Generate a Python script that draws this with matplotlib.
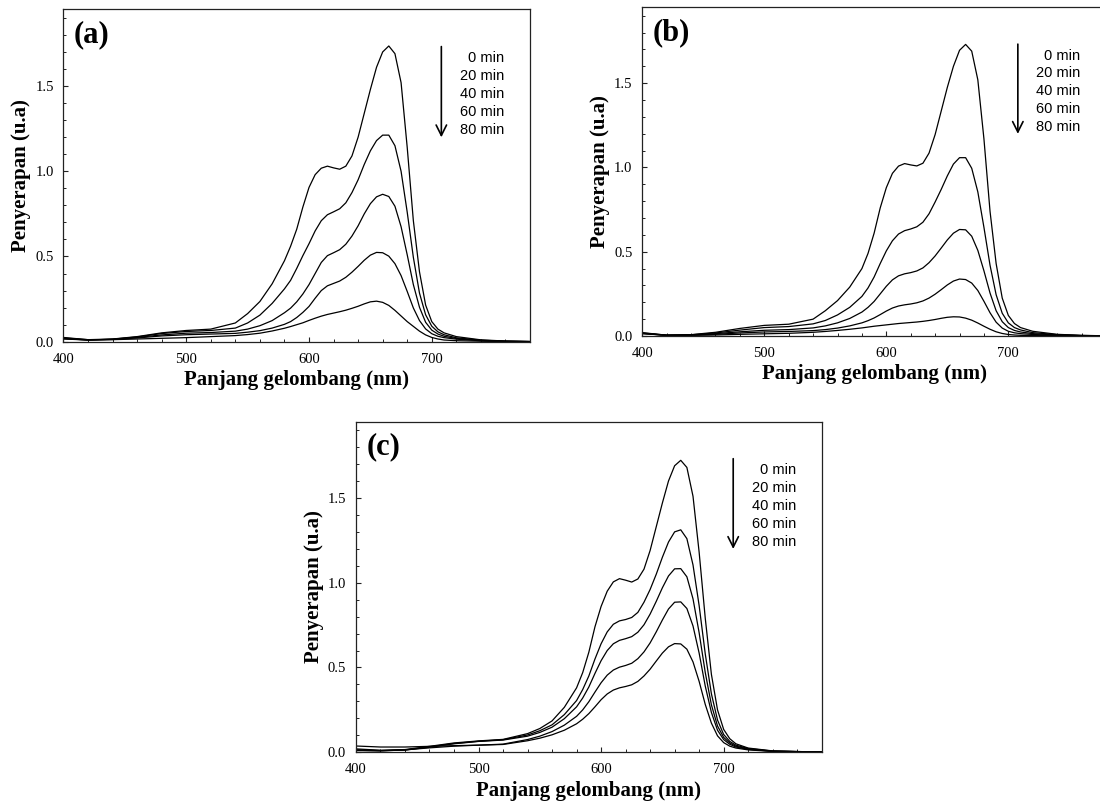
# plot.py
#
# UV-Vis absorption spectra at 0-80 min, three panels (a), (b), (c)
#

import matplotlib
matplotlib.use("Agg")
import matplotlib.pyplot as plt
from matplotlib.ticker import MultipleLocator, FormatStrFormatter

SERIF = ["Liberation Serif", "DejaVu Serif"]
SANS = ["Liberation Sans", "DejaVu Sans"]
plt.rcParams["font.family"] = SERIF

# wavelength grid the spectra were read at (nm)
wavelength = [400, 420, 440, 460, 480, 500, 520, 540, 550, 560, 570, 580, 585, 590,
              595, 600, 605, 610, 615, 620, 625, 630, 635, 640, 645, 650, 655, 660,
              665, 670, 675, 680, 685, 690, 695, 700, 705, 710, 720, 740, 760, 780]

time_labels = ["0 min", "20 min", "40 min", "60 min", "80 min"]
panel_names = ["(a)", "(b)", "(c)"]

# ---- panel (a) ----
a_0min = [0.025, 0.012, 0.016, 0.030, 0.052, 0.066, 0.074, 0.110, 0.165, 0.236, 0.340, 0.475, 0.560, 0.660,
          0.790, 0.905, 0.980, 1.018, 1.030, 1.020, 1.012, 1.030, 1.090, 1.200, 1.340, 1.480, 1.610, 1.700,
          1.735, 1.690, 1.520, 1.140, 0.710, 0.410, 0.215, 0.118, 0.074, 0.052, 0.030, 0.011, 0.004, 0.001]
a_20min = [0.020, 0.010, 0.015, 0.028, 0.048, 0.060, 0.066, 0.080, 0.110, 0.156, 0.225, 0.310, 0.360, 0.430,
           0.505, 0.575, 0.650, 0.710, 0.745, 0.762, 0.780, 0.815, 0.875, 0.950, 1.040, 1.120, 1.180, 1.212,
           1.212, 1.150, 1.000, 0.760, 0.495, 0.285, 0.158, 0.091, 0.058, 0.041, 0.023, 0.009, 0.003, 0.001]
a_40min = [0.018, 0.010, 0.014, 0.025, 0.040, 0.050, 0.054, 0.062, 0.074, 0.094, 0.124, 0.170, 0.197, 0.234,
           0.280, 0.335, 0.400, 0.465, 0.505, 0.522, 0.540, 0.572, 0.620, 0.680, 0.750, 0.810, 0.850, 0.865,
           0.852, 0.795, 0.675, 0.510, 0.335, 0.202, 0.114, 0.068, 0.045, 0.032, 0.019, 0.007, 0.003, 0.001]
a_60min = [0.016, 0.010, 0.013, 0.022, 0.034, 0.041, 0.045, 0.049, 0.056, 0.065, 0.080, 0.102, 0.118, 0.142,
           0.172, 0.207, 0.255, 0.300, 0.328, 0.342, 0.356, 0.378, 0.408, 0.442, 0.478, 0.508, 0.524, 0.522,
           0.502, 0.458, 0.388, 0.295, 0.198, 0.124, 0.075, 0.047, 0.032, 0.024, 0.015, 0.006, 0.002, 0.001]
a_80min = [0.022, 0.012, 0.012, 0.016, 0.020, 0.024, 0.030, 0.036, 0.042, 0.050, 0.063, 0.079, 0.089, 0.100,
           0.111, 0.125, 0.138, 0.150, 0.160, 0.168, 0.176, 0.185, 0.196, 0.208, 0.222, 0.234, 0.238, 0.231,
           0.213, 0.184, 0.151, 0.118, 0.090, 0.062, 0.040, 0.025, 0.016, 0.010, 0.006, 0.003, 0.001, 0.000]

# ---- panel (b) ----
b_0min = [0.020, 0.005, 0.008, 0.022, 0.045, 0.063, 0.070, 0.100, 0.150, 0.210, 0.290, 0.400, 0.490, 0.610,
          0.760, 0.880, 0.965, 1.008, 1.023, 1.015, 1.009, 1.025, 1.085, 1.195, 1.335, 1.475, 1.600, 1.695,
          1.730, 1.690, 1.520, 1.170, 0.740, 0.430, 0.225, 0.122, 0.074, 0.050, 0.028, 0.010, 0.004, 0.001]
b_20min = [0.018, 0.005, 0.007, 0.018, 0.035, 0.050, 0.056, 0.072, 0.092, 0.125, 0.170, 0.235, 0.285, 0.350,
           0.430, 0.505, 0.565, 0.605, 0.625, 0.635, 0.648, 0.675, 0.725, 0.795, 0.870, 0.950, 1.020, 1.058,
           1.058, 0.995, 0.855, 0.645, 0.420, 0.245, 0.135, 0.078, 0.050, 0.036, 0.020, 0.008, 0.003, 0.001]
b_40min = [0.016, 0.004, 0.006, 0.014, 0.025, 0.034, 0.038, 0.048, 0.060, 0.078, 0.104, 0.142, 0.170, 0.205,
           0.250, 0.295, 0.333, 0.357, 0.369, 0.376, 0.386, 0.404, 0.435, 0.475, 0.522, 0.570, 0.610, 0.632,
           0.630, 0.592, 0.508, 0.387, 0.255, 0.150, 0.085, 0.050, 0.033, 0.024, 0.014, 0.006, 0.002, 0.001]
b_60min = [0.015, 0.004, 0.005, 0.010, 0.018, 0.024, 0.027, 0.032, 0.038, 0.047, 0.060, 0.078, 0.091, 0.107,
           0.127, 0.148, 0.166, 0.178, 0.185, 0.190, 0.197, 0.208, 0.225, 0.248, 0.275, 0.303, 0.326, 0.338,
           0.335, 0.314, 0.270, 0.206, 0.138, 0.082, 0.047, 0.028, 0.019, 0.014, 0.009, 0.004, 0.002, 0.001]
b_80min = [0.014, 0.004, 0.004, 0.006, 0.010, 0.013, 0.016, 0.022, 0.027, 0.033, 0.040, 0.048, 0.053, 0.058,
           0.062, 0.066, 0.070, 0.074, 0.077, 0.080, 0.083, 0.087, 0.092, 0.098, 0.105, 0.111, 0.114, 0.113,
           0.106, 0.094, 0.077, 0.058, 0.040, 0.025, 0.015, 0.009, 0.006, 0.004, 0.003, 0.002, 0.001, 0.000]

# ---- panel (c) ----
c_0min = [0.020, 0.012, 0.016, 0.035, 0.055, 0.067, 0.076, 0.110, 0.140, 0.185, 0.265, 0.380, 0.470, 0.590,
          0.740, 0.860, 0.950, 1.005, 1.024, 1.015, 1.004, 1.022, 1.080, 1.190, 1.330, 1.470, 1.600, 1.690,
          1.722, 1.680, 1.510, 1.180, 0.790, 0.460, 0.250, 0.135, 0.080, 0.050, 0.025, 0.008, 0.004, 0.003]
c_20min = [0.015, 0.010, 0.014, 0.032, 0.052, 0.065, 0.074, 0.102, 0.127, 0.162, 0.222, 0.305, 0.370, 0.450,
           0.550, 0.640, 0.710, 0.755, 0.775, 0.783, 0.795, 0.825, 0.885, 0.960, 1.050, 1.150, 1.240, 1.300,
           1.312, 1.260, 1.105, 0.865, 0.580, 0.345, 0.190, 0.105, 0.064, 0.042, 0.022, 0.007, 0.004, 0.003]
c_40min = [0.012, 0.009, 0.013, 0.030, 0.050, 0.064, 0.072, 0.095, 0.117, 0.148, 0.198, 0.268, 0.320, 0.385,
           0.465, 0.540, 0.600, 0.640, 0.660, 0.670, 0.682, 0.708, 0.752, 0.815, 0.890, 0.970, 1.040, 1.082,
           1.083, 1.035, 0.905, 0.705, 0.470, 0.280, 0.155, 0.088, 0.055, 0.036, 0.019, 0.006, 0.004, 0.003]
c_60min = [0.010, 0.008, 0.014, 0.026, 0.036, 0.042, 0.048, 0.075, 0.095, 0.122, 0.160, 0.212, 0.250, 0.298,
           0.355, 0.410, 0.455, 0.485, 0.502, 0.512, 0.525, 0.552, 0.592, 0.645, 0.710, 0.780, 0.845, 0.885,
           0.887, 0.848, 0.745, 0.585, 0.390, 0.235, 0.130, 0.075, 0.047, 0.031, 0.017, 0.006, 0.004, 0.003]
c_80min = [0.037, 0.031, 0.031, 0.035, 0.039, 0.042, 0.046, 0.068, 0.083, 0.103, 0.130, 0.168, 0.195, 0.228,
           0.268, 0.310, 0.344, 0.367, 0.380, 0.388, 0.398, 0.418, 0.450, 0.490, 0.538, 0.585, 0.622, 0.641,
           0.639, 0.608, 0.533, 0.418, 0.282, 0.172, 0.097, 0.057, 0.036, 0.025, 0.014, 0.005, 0.004, 0.003]

panel_data = [
    [a_0min, a_20min, a_40min, a_60min, a_80min],
    [b_0min, b_20min, b_40min, b_60min, b_80min],
    [c_0min, c_20min, c_40min, c_60min, c_80min],
]

# axes rectangles in figure fraction (left, bottom, width, height)
rects = [
    [0.0577, 0.5755, 0.4241, 0.4129],
    [0.5839, 0.5826, 0.4215, 0.4083],
    [0.3236, 0.0655, 0.4234, 0.4107],
]


def draw_panel(ax, curves, name):
    """ Draws one panel with its five spectra, arrow and time list. """
    for curve in curves:
        ax.plot(wavelength, curve, color="black", lw=0.9, solid_joinstyle="round")

    ax.set_xlim(400, 780)
    ax.set_ylim(0, 1.95)
    ax.xaxis.set_major_locator(MultipleLocator(100))
    ax.xaxis.set_minor_locator(MultipleLocator(20))
    ax.yaxis.set_major_locator(MultipleLocator(0.5))
    ax.yaxis.set_minor_locator(MultipleLocator(0.1))
    ax.yaxis.set_major_formatter(FormatStrFormatter("%.1f"))

    ax.tick_params(which="both", direction="in", top=False, right=False,
                   color="#222222", labelsize=10.5)
    ax.tick_params(which="major", length=3.5, width=0.8)
    ax.tick_params(which="minor", length=2.5, width=0.7)
    ax.tick_params(axis="x", pad=8)
    ax.tick_params(axis="y", pad=7)

    for sp in ax.spines.values():
        sp.set_linewidth(0.9)
        sp.set_color("#222222")

    ax.set_xlabel("Panjang gelombang (nm)", fontsize=15, fontweight="bold", labelpad=3)
    ax.set_ylabel("Penyerapan (u.a)", fontsize=15, fontweight="bold", labelpad=3)

    ax.text(0.022, 0.923, name, transform=ax.transAxes, fontsize=22,
            fontweight="bold", ha="left", va="center")

    # downward arrow next to the time list
    ax.annotate("", xy=(0.81, 0.615), xytext=(0.81, 0.888),
                xycoords="axes fraction", textcoords="axes fraction",
                arrowprops=dict(arrowstyle="->,head_length=0.5,head_width=0.25",
                                lw=1.2, color="black", mutation_scale=15,
                                shrinkA=0, shrinkB=0))
    for i, t in enumerate(time_labels):
        ax.text(0.945, 0.853 - i * 0.054, t, transform=ax.transAxes, family=SANS,
                fontsize=10.5, ha="right", va="center")


fig = plt.figure(figsize=(11, 8.05), dpi=100)
for rect, curves, name in zip(rects, panel_data, panel_names):
    ax = fig.add_axes(rect)
    draw_panel(ax, curves, name)

fig.savefig("out.png", dpi=100)
